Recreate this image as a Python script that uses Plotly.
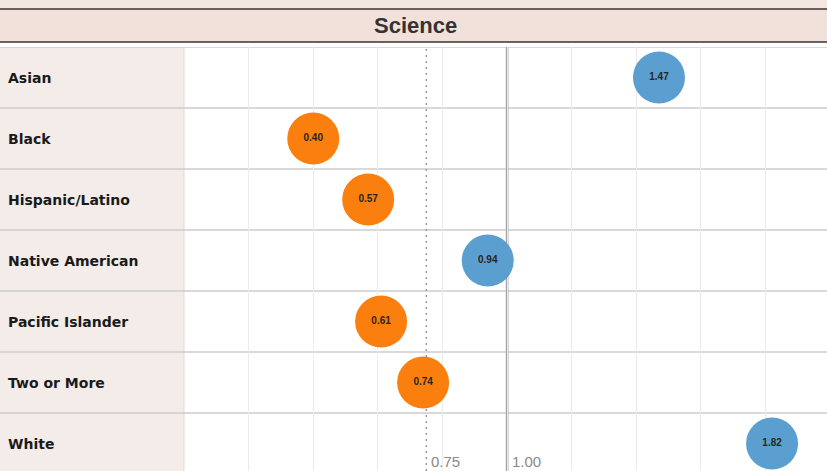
import plotly.graph_objects as go

# Science index by race/ethnicity (1.00 = parity)
groups = ["Asian", "Black", "Hispanic/Latino", "Native American",
          "Pacific Islander", "Two or More", "White"]
values = [1.47, 0.40, 0.57, 0.94, 0.61, 0.74, 1.82]
threshold = 0.75
parity = 1.00
tick_labels = ["0.75", "1.00"]
tick_values = [0.75, 1.00]

W, H = 827, 471
L, T = 184, 47
plot_w, plot_h = W - L, H - T
x_range = [0, 1.99]

ORANGE = "#fb7f0e"
BLUE = "#5b9fd1"
colors = [BLUE if v >= threshold else ORANGE for v in values]
rows = list(range(len(groups)))


def py(px):
    """Convert a pixel row (from top) to paper y."""
    return (H - px) / plot_h


left_edge = -L / plot_w

fig = go.Figure()
fig.add_trace(go.Scatter(
    x=values, y=rows, mode="markers+text",
    marker=dict(size=52, color=colors, line=dict(width=0)),
    text=[f"<b>{v:.2f}</b>" for v in values],
    textposition="middle center",
    textfont=dict(size=10, color="#2a2420", family="Liberation Sans, Arial, sans-serif"),
    hoverinfo="skip", cliponaxis=False, showlegend=False,
))

shapes = []
# label column background
shapes.append(dict(type="rect", xref="paper", yref="paper", x0=left_edge, x1=0,
                   y0=0, y1=1, fillcolor="#f3ece9", line=dict(width=0), layer="below"))
shapes.append(dict(type="line", xref="paper", yref="paper", x0=0, x1=0, y0=0, y1=1,
                   line=dict(color="#e2dad6", width=1), layer="below"))
# title band
shapes.append(dict(type="rect", xref="paper", yref="paper", x0=left_edge, x1=1,
                   y0=py(42), y1=py(0), fillcolor="#f2e1da", line=dict(width=0), layer="below"))
shapes.append(dict(type="rect", xref="paper", yref="paper", x0=left_edge, x1=1,
                   y0=py(8), y1=py(0), fillcolor="#f4e7e2", line=dict(width=0), layer="below"))
for ypx in (9, 42):
    shapes.append(dict(type="line", xref="paper", yref="paper", x0=left_edge, x1=1,
                       y0=py(ypx), y1=py(ypx), line=dict(color="#3b3535", width=1.6)))
# row separators
for i in range(len(groups) + 1):
    shapes.append(dict(type="line", xref="paper", yref="y", x0=left_edge, x1=1,
                       y0=i - 0.5, y1=i - 0.5, line=dict(color="#cdcdcd", width=1.6),
                       layer="below"))
# reference lines
shapes.append(dict(type="line", xref="x", yref="paper", x0=threshold, x1=threshold,
                   y0=0, y1=1, line=dict(color="#9a9a9a", width=1.5, dash="2px,4px"),
                   layer="below"))
shapes.append(dict(type="line", xref="x", yref="paper", x0=parity, x1=parity,
                   y0=0, y1=1, line=dict(color="#a0a0a0", width=2.6), layer="below"))

annotations = []
annotations.append(dict(text="<b>Science</b>", xref="paper", yref="paper",
                        x=(415 - L) / plot_w, y=py(26), showarrow=False,
                        xanchor="center", yanchor="middle",
                        font=dict(size=22, color="#333333",
                                  family="Liberation Sans, Arial, sans-serif")))
for g, r in zip(groups, rows):
    annotations.append(dict(text=f"<b>{g}</b>", xref="paper", yref="y",
                            x=(6 - L) / plot_w, y=r, showarrow=False,
                            xanchor="left", yanchor="middle",
                            font=dict(size=14, color="#1a1a1a",
                                      family="DejaVu Sans, Verdana, sans-serif")))
for tv, tl in zip(tick_values, tick_labels):
    annotations.append(dict(text=tl, xref="x", yref="paper", x=tv, y=py(472),
                            xshift=3, showarrow=False, xanchor="left", yanchor="bottom",
                            font=dict(size=15, color="#8a8a8a",
                                      family="Liberation Sans, Arial, sans-serif")))

fig.update_layout(
    width=W, height=H,
    margin=dict(l=L, r=0, t=T, b=0),
    paper_bgcolor="white", plot_bgcolor="white",
    xaxis=dict(range=x_range, dtick=0.2, tick0=0, showgrid=True, gridcolor="#ebebeb",
               gridwidth=1, zeroline=False, showticklabels=False, ticks="",
               showline=False, fixedrange=True),
    yaxis=dict(range=[len(groups) - 0.55, -0.5], showgrid=False, zeroline=False,
               showticklabels=False, ticks="", showline=False, fixedrange=True),
    shapes=shapes, annotations=annotations,
)

fig.write_html("out.html")
